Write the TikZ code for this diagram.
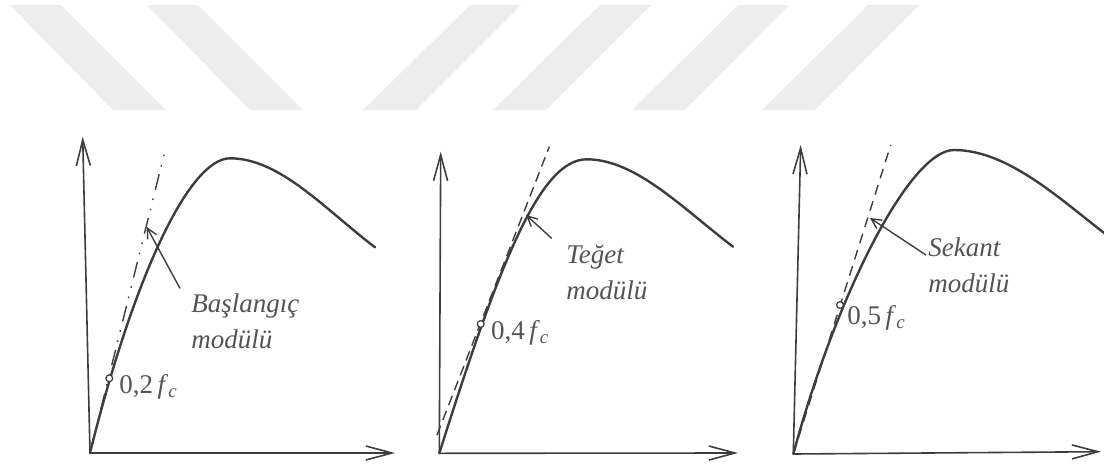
\documentclass[tikz,border=0pt]{standalone}
\usepackage{fontspec}
\setmainfont{Liberation Serif}
\usetikzlibrary{arrows.meta}
\definecolor{ink}{gray}{0.24}
\definecolor{txt}{gray}{0.33}
\definecolor{wmark}{gray}{0.93}

\begin{document}
\begin{tikzpicture}[x=1pt,y=1pt,
        axis/.style={draw=ink,line width=0.8pt,-{Straight Barb[length=13pt,width=7pt]}},
        curve/.style={draw=ink,line width=1.2pt,line cap=round},
        pointer/.style={draw=ink,line width=0.7pt,-{Straight Barb[length=5pt,width=5pt]}},
        lbl/.style={text=txt,anchor=west,inner sep=0pt,align=left,font=\itshape\fontsize{13.5}{18}\selectfont},
        fclbl/.style={text=txt,anchor=west,inner sep=0pt,font=\fontsize{13.5}{16}\selectfont},
        ptmark/.style={circle,draw=ink,fill=white,line width=0.6pt,inner sep=0pt,minimum size=3.4pt}]
            \useasboundingbox (0,0) rectangle (552,234);
            \clip (0,0) rectangle (552,234);
            \foreach \xt/\xb in {5/56.5,73.5/125,235/181.5,300/246.5,369/316,434/381}
                \fill[wmark] (\xt,231.5) -- (\xt+25.5,231.5) -- (\xb+26.5,179) -- (\xb,179) -- cycle;
            \coordinate (o1) at (45,7.5);
            \coordinate (o2) at (219.65,7.35);
            \coordinate (o3) at (396.65,7);
            \draw[axis] (o1) -- (41.35,165.65);
            \draw[axis] (o1) -- (197.5,7.5);
            \draw[axis] (o2) -- (220.35,158.15);
            \draw[axis] (o2) -- (369,7.5);
            \draw[axis] (o3) -- (400.35,161.5);
            \draw[axis] (o3) -- (550.5,8.15);
            \draw[ink,line width=0.7pt,dash pattern=on 8pt off 4pt on 0.8pt off 4.5pt on 0.8pt off 4.5pt] (o1) -- (83,160.65);
            \draw[ink,line width=0.7pt,dash pattern=on 5pt off 3pt] (218.5,16.5) -- (274.65,160.65);
            \draw[ink,line width=0.7pt,dash pattern=on 5pt off 3.5pt] (o3) -- (445.35,161.5);
            \draw[curve] (o1) .. controls (67.3,97.5) and (95,154.85) .. (115,154.85) .. controls (140,154.85) and (162.5,129.35) .. (187.5,110.35);
            \draw[curve] (o2) .. controls (249.65,102.35) and (270,154.35) .. (293.35,154.35) .. controls (318,154.35) and (341.5,129.65) .. (366.5,110.65);
            \draw[curve] (o3) .. controls (418.25,87) and (455,159) .. (477,159) .. controls (505,159) and (532,132.5) .. (556,114.5);
            \node[ptmark] (c1) at (54.65,44.85) {};
            \node[ptmark] (c2) at (240.35,72) {};
            \node[ptmark] (c3) at (420,81.5) {};
            \node[fclbl] (f1) at (59.5,40.5) {0,2\,\textit{f}\textsubscript{\textit{c}}};
            \node[fclbl] (f2) at (245.35,67.5) {0,4\,\textit{f}\textsubscript{\textit{c}}};
            \node[fclbl] (f3) at (423.5,75) {0,5\,\textit{f}\textsubscript{\textit{c}}};
            \node[lbl] (m1) at (95.5,73.25) {Başlangıç\\modülü};
            \node[lbl] (m2) at (283,98) {Teğet\\modülü};
            \node[lbl] (m3) at (464,101.5) {Sekant\\modülü};
            \coordinate (s1) at (90,89.8);
            \coordinate (e1) at (73.3,120.6);
            \coordinate (s2) at (275.85,114.85);
            \coordinate (e2) at (263,126.5);
            \coordinate (s3) at (463,106.5);
            \coordinate (e3) at (435,125);
            \draw[pointer] (s1) -- (e1);
            \draw[pointer] (s2) -- (e2);
            \draw[pointer] (s3) -- (e3);
        \end{tikzpicture}
\end{document}
